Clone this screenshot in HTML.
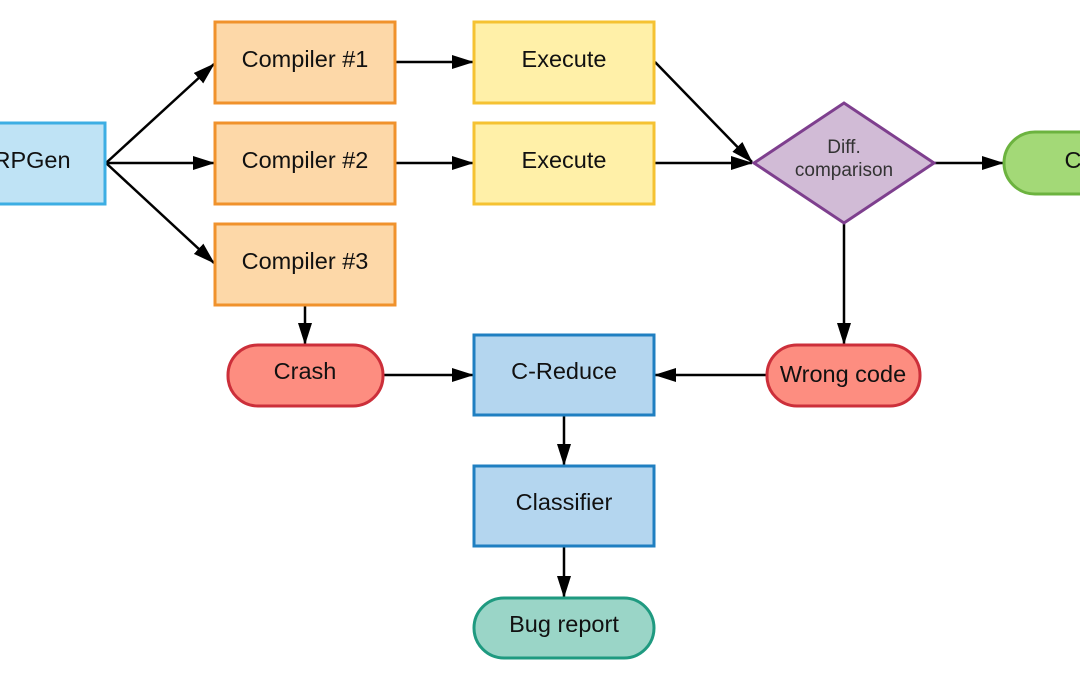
<!DOCTYPE html>
<html><head><meta charset="utf-8"><style>html,body{margin:0;padding:0;background:#fff}svg{display:block}</style></head><body>
<svg width="1080" height="675" viewBox="0 0 1080 675" xmlns="http://www.w3.org/2000/svg" font-family="Liberation Sans, sans-serif">
<defs>
<marker id="b" markerWidth="22" markerHeight="14" refX="21" refY="7" orient="auto" markerUnits="userSpaceOnUse"><path d="M0,0 L22,7 L0,14Z" fill="#000"/></marker></defs>
<g stroke="#000" stroke-width="2.5" fill="none" marker-end="url(#b)">
<line x1="106" y1="163" x2="214" y2="64"/>
<line x1="106" y1="163" x2="214" y2="163"/>
<line x1="106" y1="163" x2="214" y2="263"/>
<line x1="396" y1="62" x2="473" y2="62"/>
<line x1="396" y1="163" x2="473" y2="163"/>
<line x1="655" y1="62" x2="752" y2="162"/>
<line x1="655" y1="163" x2="752" y2="163"/>
<line x1="934" y1="163" x2="1003" y2="163"/>
<line x1="844" y1="224" x2="844" y2="344"/>
<line x1="305" y1="306" x2="305" y2="344"/>
<line x1="384" y1="375" x2="473" y2="375"/>
<line x1="766" y1="375" x2="655" y2="375"/>
<line x1="564" y1="416" x2="564" y2="465"/>
<line x1="564" y1="547" x2="564" y2="597"/>
</g>
<g stroke-width="3">
<rect x="-20" y="123" width="125" height="81" fill="#bfe3f5" stroke="#3daee3"/>
<rect x="215" y="22" width="180" height="81" fill="#fdd8a8" stroke="#f0922c"/>
<rect x="215" y="123" width="180" height="81" fill="#fdd8a8" stroke="#f0922c"/>
<rect x="215" y="224" width="180" height="81" fill="#fdd8a8" stroke="#f0922c"/>
<rect x="474" y="22" width="180" height="81" fill="#fff0a8" stroke="#f5c232"/>
<rect x="474" y="123" width="180" height="81" fill="#fff0a8" stroke="#f5c232"/>
<polygon points="754,163 844,103 934,163 844,223" fill="#d1bbd6" stroke="#7e3f8e"/>
<rect x="1004" y="132" width="160" height="62" rx="31" fill="#a3d977" stroke="#6cb33f"/>
<rect x="228" y="345" width="155" height="61" rx="30" fill="#fd8d80" stroke="#cc2f3a"/>
<rect x="767" y="345" width="153" height="61" rx="30" fill="#fd8d80" stroke="#cc2f3a"/>
<rect x="474" y="335" width="180" height="80" fill="#b4d6ef" stroke="#1f7fc1"/>
<rect x="474" y="466" width="180" height="80" fill="#b4d6ef" stroke="#1f7fc1"/>
<rect x="474" y="598" width="180" height="60" rx="30" fill="#9ad5c7" stroke="#1f9a80"/>
</g>
<g font-size="23.5" fill="#111" text-anchor="middle">
<text x="32" y="168">RPGen</text>
<text x="305" y="67">Compiler #1</text>
<text x="305" y="168">Compiler #2</text>
<text x="305" y="269">Compiler #3</text>
<text x="564" y="67">Execute</text>
<text x="564" y="168">Execute</text>
<text x="1073" y="168" text-anchor="middle">C</text>
<text x="305" y="379">Crash</text>
<text x="843" y="382">Wrong code</text>
<text x="564" y="379">C-Reduce</text>
<text x="564" y="510">Classifier</text>
<text x="564" y="632">Bug report</text>
<text x="844" y="153" font-size="19" fill="#333">Diff.</text>
<text x="844" y="176" font-size="19" fill="#333">comparison</text>
</g>
</svg>
</body></html>
